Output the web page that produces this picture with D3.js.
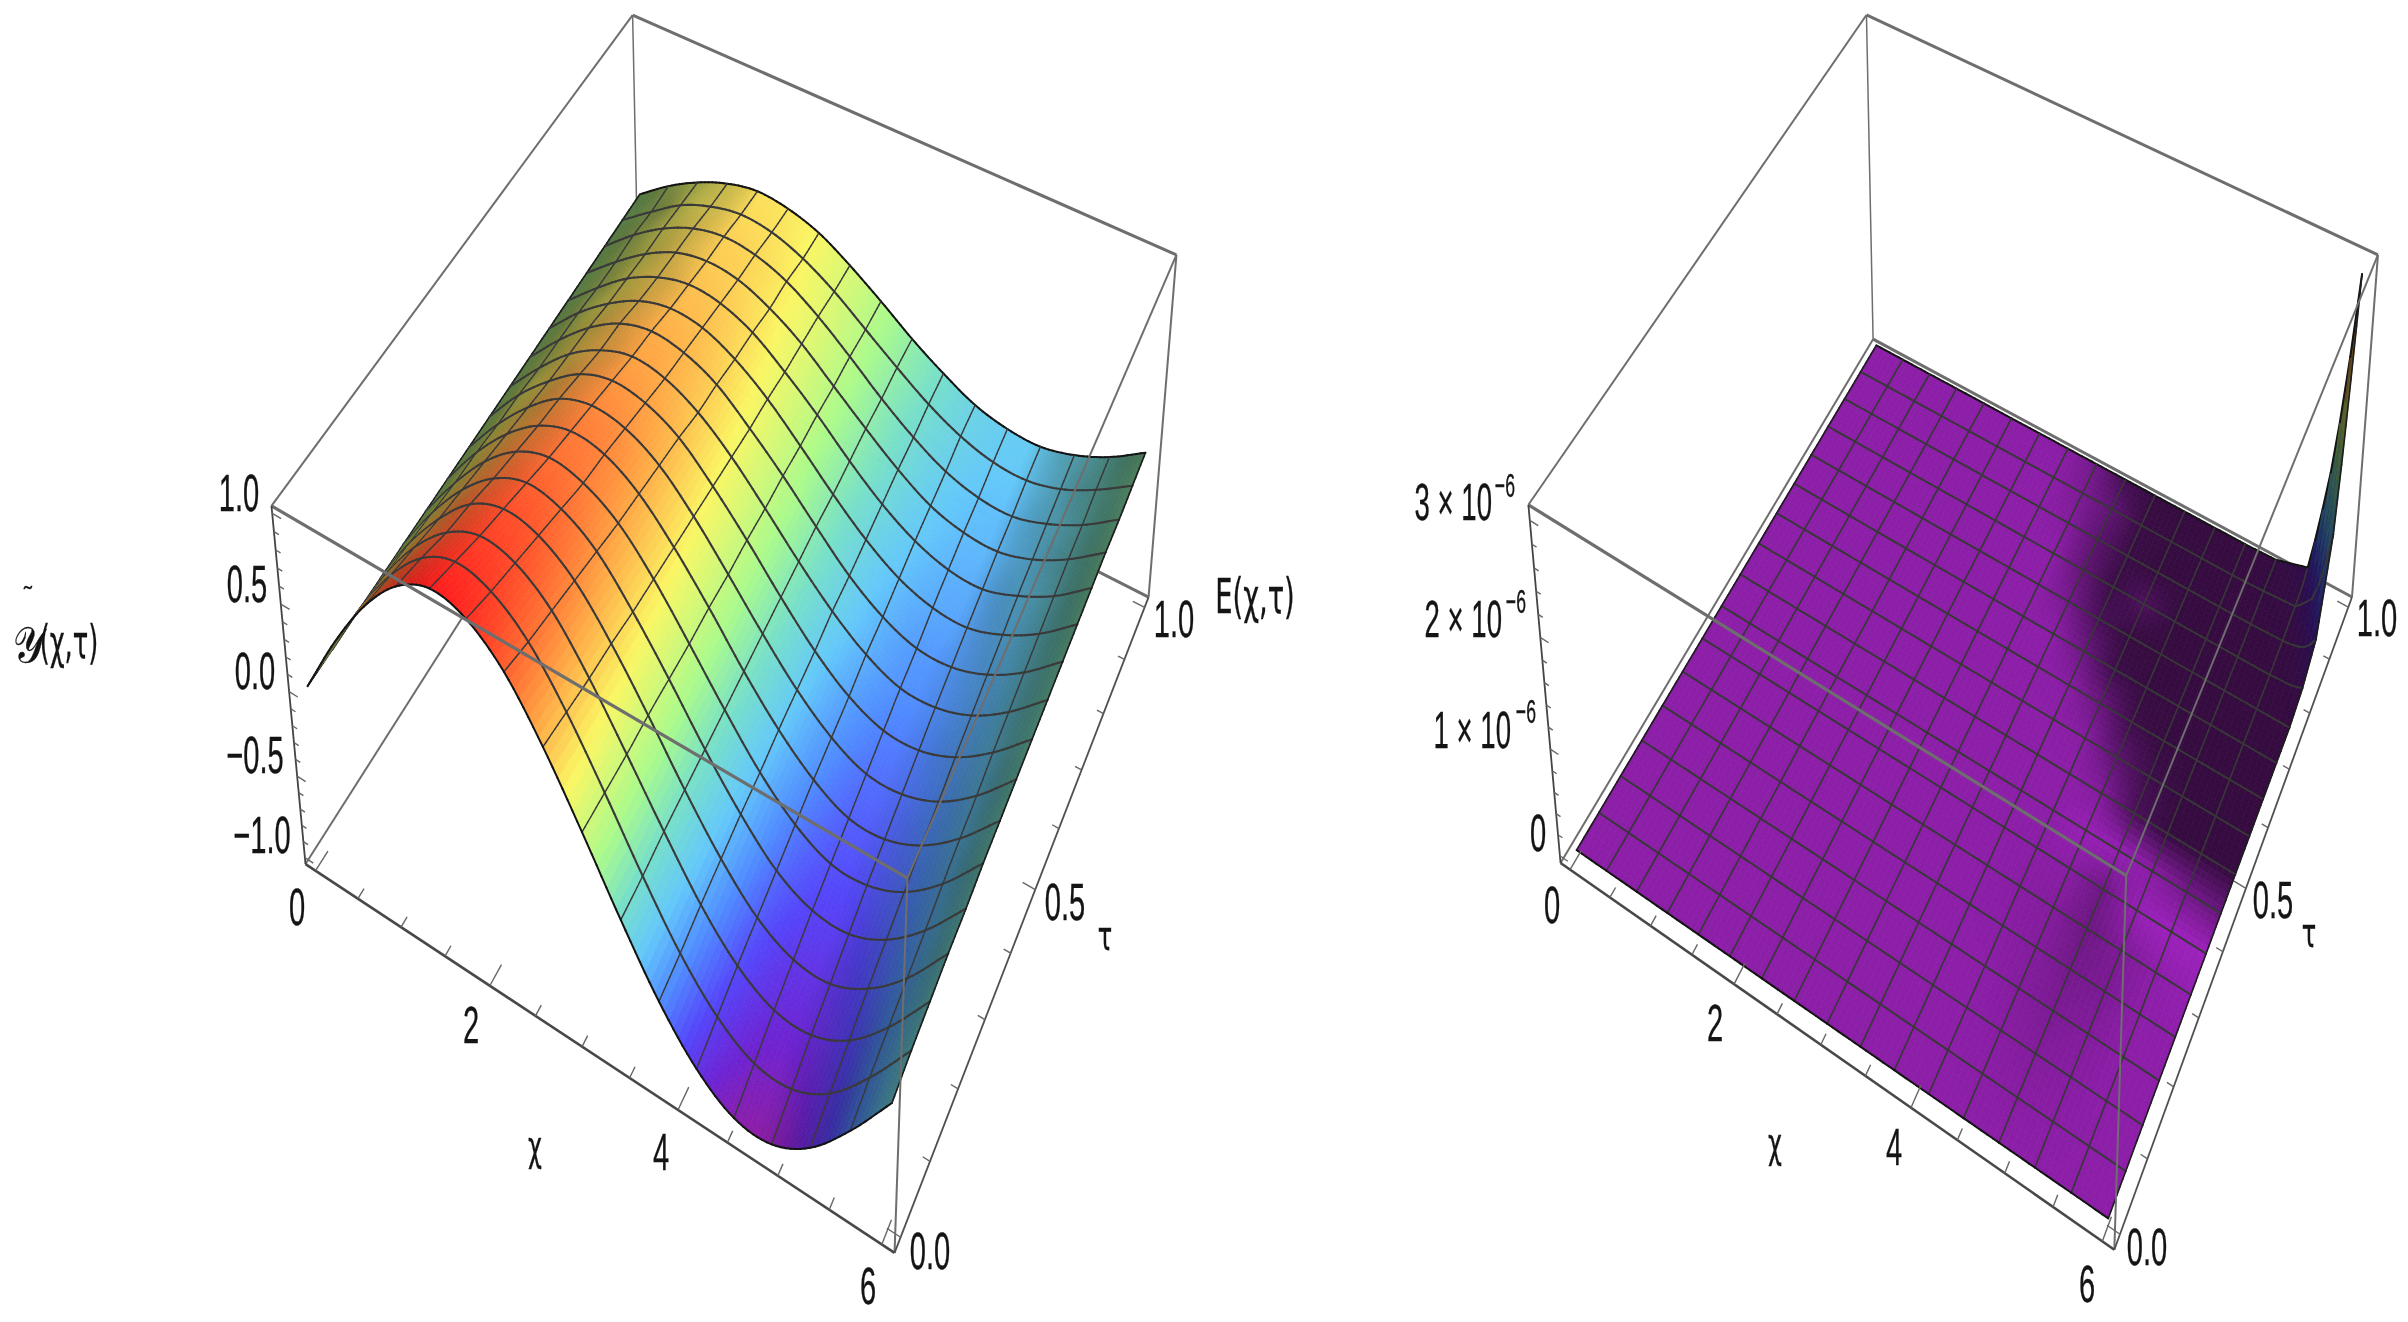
<!DOCTYPE html>
<html><head><meta charset="utf-8">
<script src="https://cdnjs.cloudflare.com/ajax/libs/d3/7.8.5/d3.min.js"></script>
<style>html,body{margin:0;background:#fff}svg{display:block;filter:blur(.55px)}text{font-family:"Liberation Sans",Arial,sans-serif;fill:#141414;stroke:#141414;stroke-width:.35}</style>
</head><body><svg id="c" width="2408" height="1322"></svg>
<script>
const chiMesh=[0,.375,.75,1.125,1.5,1.875,2.25,2.625,3,3.375,3.75,4.125,4.5,4.875,5.25,5.625,6];
const tauMesh=[0,.0625,.125,.1875,.25,.3125,.375,.4375,.5,.5625,.625,.6875,.75,.8125,.875,.9375,1];
// approximate solution surface, one row per tau mesh line
const yVals=[
[0,.37,.68,.90,1.00,.95,.78,.49,.14,-.23,-.57,-.83,-.98,-.99,-.86,-.61,-.30],
[0,.35,.64,.85,.94,.89,.73,.46,.13,-.22,-.54,-.78,-.92,-.93,-.81,-.57,-.27],
[0,.33,.60,.79,.88,.84,.69,.43,.12,-.20,-.50,-.73,-.86,-.87,-.76,-.54,-.25],
[0,.31,.56,.75,.83,.79,.65,.41,.12,-.19,-.47,-.69,-.81,-.82,-.71,-.51,-.23],
[0,.29,.53,.70,.78,.74,.61,.38,.11,-.18,-.44,-.65,-.76,-.77,-.67,-.48,-.22],
[0,.27,.50,.66,.73,.69,.57,.36,.10,-.17,-.42,-.61,-.72,-.72,-.63,-.45,-.20],
[0,.26,.47,.62,.69,.66,.54,.34,.10,-.16,-.39,-.57,-.68,-.68,-.59,-.42,-.19],
[0,.24,.44,.59,.65,.62,.51,.32,.09,-.15,-.37,-.54,-.64,-.64,-.56,-.40,-.18],
[0,.23,.41,.55,.61,.58,.48,.30,.09,-.14,-.35,-.51,-.60,-.60,-.52,-.37,-.17],
[0,.21,.39,.51,.57,.54,.44,.28,.08,-.13,-.32,-.47,-.56,-.56,-.49,-.35,-.16],
[0,.20,.37,.49,.54,.51,.42,.26,.08,-.12,-.31,-.45,-.53,-.53,-.46,-.33,-.15],
[0,.19,.34,.45,.50,.48,.39,.25,.07,-.12,-.29,-.42,-.49,-.50,-.43,-.31,-.14],
[0,.17,.32,.42,.47,.45,.37,.23,.07,-.11,-.27,-.39,-.46,-.47,-.40,-.29,-.13],
[0,.16,.30,.40,.44,.42,.34,.22,.06,-.10,-.25,-.37,-.43,-.44,-.38,-.27,-.12],
[0,.16,.29,.38,.42,.40,.33,.21,.06,-.10,-.24,-.35,-.41,-.42,-.36,-.26,-.12],
[0,.14,.27,.35,.39,.37,.30,.19,.05,-.09,-.22,-.32,-.38,-.39,-.34,-.24,-.11],
[0,.14,.25,.33,.37,.35,.29,.18,.05,-.09,-.21,-.31,-.36,-.37,-.32,-.23,-.10]];
// error surface (units of 1e-6): finer sampling around the corner spike
const errChi=[0,.375,.75,1.125,1.5,1.875,2.25,2.625,3,3.375,3.75,4.125,4.5,4.875,5.25,5.625,5.72,5.82,5.91,6];
const errTau=[0,.0625,.125,.1875,.25,.3125,.375,.4375,.5,.5625,.625,.6875,.75,.8125,.875,.9375,.96,.98,1];
const zero=[0,0,0,0,0,0,0,0,0,0,0,0,0,0,0,0,0,0,0,0];
const errVals=[zero,zero,zero,zero,zero,zero,zero,zero,zero,zero,zero,zero,zero,
[0,0,0,0,0,0,0,0,0,0,0,0,0,0,0,0,.01,.01,.02,.05],
[0,0,0,0,0,0,0,0,0,0,0,0,0,0,0,.01,.02,.04,.08,.2],
[0,0,0,0,0,0,0,0,0,0,0,0,0,0,.01,.03,.1,.2,.45,.9],
[0,0,0,0,0,0,0,0,0,0,0,0,0,0,.01,.04,.18,.38,.8,1.5],
[0,0,0,0,0,0,0,0,0,0,0,0,0,0,.01,.06,.32,.7,1.25,2.2],
[0,0,0,0,0,0,0,0,0,0,0,0,0,0,.01,.1,.55,1.15,1.9,3.0]];
// surface darkening of the error plot (negative = brighter), one row per tau mesh line
const errShade=[
[0,0,0,0,0,0,0,0,0,0,0,0,0,0,0,0,0],
[0,0,0,0,0,0,0,0,0,0,0,0,.02,.05,.03,0,0],
[0,0,0,0,0,0,0,0,0,0,0,0,.05,.12,.06,0,0],
[0,0,0,0,0,0,0,0,0,0,0,0,.1,.2,.12,0,0],
[0,0,0,0,0,0,0,0,0,0,0,.03,.1,.28,.2,0,-.03],
[0,0,0,0,0,0,0,0,0,0,0,.05,.1,.36,.18,0,-.08],
[0,0,0,0,0,0,0,0,0,0,0,.02,.03,.35,-.12,-.2,-.2],
[0,0,0,0,0,0,0,0,0,0,0,0,-.12,-.12,.03,.28,.42],
[0,0,0,0,0,0,0,0,0,0,0,0,.12,.75,1,1,1],
[0,0,0,0,0,0,0,0,0,0,0,.06,.55,.9,1,1,1],
[0,0,0,0,0,0,0,0,0,0,.05,.4,.9,1,1,1,1],
[0,0,0,0,0,0,0,0,0,0,.38,.92,1,1,1,1,1],
[0,0,0,0,0,0,0,0,0,.25,.78,1,1,1,1,1,1],
[0,0,0,0,0,0,0,0,0,.5,.95,.72,1,1,1,1,1],
[0,0,0,0,0,0,0,0,.1,.55,.95,1,1,1,1,1,1],
[0,0,0,0,0,0,0,0,.2,.5,.95,1,1,1,1,1,1],
[0,0,0,0,0,0,0,.05,.3,.85,1,1,1,1,1,1,1]];

const chiMajor=[0,2,4,6],chiMinor=[.5,1,1.5,2.5,3,3.5,4.5,5,5.5];
const tauMajor=[0,.5,1],tauMinor=[.1,.2,.3,.4,.6,.7,.8,.9];
const yMajor=[-1,-.5,0,.5,1],yMinor=[-.9,-.8,-.7,-.6,-.4,-.3,-.2,-.1,.1,.2,.3,.4,.6,.7,.8,.9];
const eMajor=[0,1,2,3],eMinor=[.2,.4,.6,.8,1.2,1.4,1.6,1.8,2.2,2.4,2.6,2.8];

const rainbowZ=[-1,-.9,-.75,-.58,-.4,-.2,0,.3,.55,.8,1];
const rainbowC=["#8c1ea8","#6e23d2","#5546fa","#508cff","#64c8fa","#78e0c8","#aafa8c","#faf664","#ffaa46","#ff5a2d","#ff1e1e"];
const rainbow=d3.scaleLinear().domain(rainbowZ).range(rainbowC).interpolate(d3.interpolateRgb).clamp(true);

const chiScale=d3.scaleLinear().domain([-.12,6.12]).range([0,1]);
const tauScale=d3.scaleLinear().domain([-.02,1.02]).range([0,1]);
const idx=d3.range(17);
const rowAmp=d3.scaleLinear().domain(idx).range(yVals.map(r=>d3.max(r)));

function solveLS(A,b){const n=A[0].length,M=d3.range(n).map(i=>{const r=d3.range(n).map(j=>d3.sum(A,a=>a[i]*a[j]));r.push(d3.sum(A,(a,k)=>a[i]*b[k]));return r;});
 for(let i=0;i<n;i++){let p=i;for(let k=i+1;k<n;k++)if(Math.abs(M[k][i])>Math.abs(M[p][i]))p=k;[M[i],M[p]]=[M[p],M[i]];
  for(let k=0;k<n;k++)if(k!==i){const f=M[k][i]/M[i][i];for(let j=i;j<=n;j++)M[k][j]-=f*M[i][j];}}
 return M.map((r,i)=>r[n]/r[i]);}
function camera(c){const A=[],b=[];for(const [u,v,w,X,Y] of c){const x=X/1000,y=Y/1000;
  A.push([u,v,w,1,0,0,0,0,-x*u,-x*v,-x*w]);b.push(x);A.push([0,0,0,0,u,v,w,1,-y*u,-y*v,-y*w]);b.push(y);}
 const p=solveLS(A,b);return (u,v,w)=>{const d=p[8]*u+p[9]*v+p[10]*w+1;return [1000*(p[0]*u+p[1]*v+p[2]*w+p[3])/d,1000*(p[4]*u+p[5]*v+p[6]*w+p[7])/d,d];};}

function cr(a,b,c,d,t){return .5*(2*b+(c-a)*t+(2*a-5*b+4*c-d)*t*t+(3*b-a-3*c+d)*t*t*t);}
function gridAt(a,b){ // mesh value, continued linearly past the borders for the spline
 if(a<0)return 2*gridAt(0,b)-gridAt(1,b);if(a>16)return 2*gridAt(16,b)-gridAt(15,b);
 if(b<0)return 2*gridAt(a,0)-gridAt(a,1);if(b>16)return 2*gridAt(a,16)-gridAt(a,15);return yVals[b][a];}
function yAt(ci,tj){const i=Math.min(15,Math.floor(ci)),j=Math.min(15,Math.floor(tj)),s=ci-i,t=tj-j;
 const col=k=>cr(gridAt(k,j-1),gridAt(k,j),gridAt(k,j+1),gridAt(k,j+2),t);return cr(col(i-1),col(i),col(i+1),col(i+2),s);}
function bil(xs,ys,M,x,y){const i=Math.min(xs.length-2,d3.bisectRight(xs,x)-1),j=Math.min(ys.length-2,d3.bisectRight(ys,y)-1),s=(x-xs[i])/(xs[i+1]-xs[i]),t=(y-ys[j])/(ys[j+1]-ys[j]);
 return (1-t)*((1-s)*M[j][i]+s*M[j][i+1])+t*((1-s)*M[j+1][i]+s*M[j+1][i+1]);}

const line=d3.line();
function panel(o){
 const g=d3.select("#c").append("g"),P=camera(o.corners),zS=o.zScale;
 const pr=(chi,tau,z)=>P(chiScale(chi),tauScale(tau),zS(z));
 const X0=-.12,X1=6.12,T0=-.02,T1=1.02,[Z0,Z1]=zS.domain();
 const edge=(a,b,w,col)=>g.append("path").attr("d",line([pr(...a),pr(...b)].map(p=>p.slice(0,2)))).attr("stroke",col||"#6e6e6e").attr("stroke-width",w).attr("fill","none");
 edge([X0,T1,Z1],[X0,T1,Z0],1.5);edge([X0,T1,Z0],[X0,T0,Z0],2);edge([X0,T1,Z0],[X1,T1,Z0],3);
 // surface
 const n=o.sub,items=[],F=o.surface,e=.0045*6/n;
 for(let a=0;a<16*n;a++)for(let b=0;b<16*n;b++){
  const ci=a/n,tj=b/n,val=(p,q)=>pr(6*p/16,q/16,F.z(p,q));
  const q=[val(ci,tj),val(ci+1/n,tj),val(ci+1/n,tj+1/n),val(ci,tj+1/n)];
  items.push({k:0,d:d3.mean(q,p=>p[2]),pts:q.map(p=>p.slice(0,2)),fill:F.color(ci+.5/n,tj+.5/n)});
  if(b%n===0)items.push({k:1,d:(q[0][2]+q[1][2])/2-e,pts:[q[0],q[1]].map(p=>p.slice(0,2)),w:b===0?2:o.mw1,c:b===0?"#141414":o.mc});
  if(a%n===0)items.push({k:1,d:(q[0][2]+q[3][2])/2-e,pts:[q[0],q[3]].map(p=>p.slice(0,2)),w:a===0?1.6:o.mw2,c:a===0?"#1e1e1e":o.mc});
  if(b===16*n-1)items.push({k:1,d:(q[2][2]+q[3][2])/2-e,pts:[q[3],q[2]].map(p=>p.slice(0,2)),w:2,c:"#141414"});
  if(a===16*n-1)items.push({k:1,d:(q[1][2]+q[2][2])/2-e,pts:[q[1],q[2]].map(p=>p.slice(0,2)),w:1.6,c:"#1e1e1e"});
 }
 items.sort((p,q)=>q.d-p.d);
 g.append("g").selectAll("path").data(items).join("path").attr("d",d=>line(d.pts)+(d.k?"":"Z"))
  .attr("fill",d=>d.k?"none":d.fill).attr("stroke",d=>d.k?d.c:d.fill).attr("stroke-width",d=>d.k?d.w:.8).attr("stroke-linecap","round");
 // front box edges
 edge([X0,T0,Z1],[X0,T1,Z1],2);edge([X0,T1,Z1],[X1,T1,Z1],3);edge([X1,T1,Z1],[X1,T1,Z0],2);
 edge([X1,T0,Z1],[X1,T1,Z1],2);edge([X1,T0,Z1],[X1,T0,Z0],2);edge([X0,T0,Z1],[X1,T0,Z1],3.2);
 edge([X0,T0,Z1],[X0,T0,Z0],1.8,"#444");edge([X0,T0,Z0],[X1,T0,Z0],2.6,"#484848");edge([X1,T0,Z0],[X1,T1,Z0],1.8,"#505050");
 // ticks
 const tick=(a,b,w)=>edge(a,b,w||1.4,"#666");
 chiMajor.forEach(c=>tick([c,T0,Z0],[c,T0+.032,Z0]));chiMinor.forEach(c=>tick([c,T0,Z0],[c,T0+.016,Z0]));
 tauMajor.forEach(t=>tick([X1,t,Z0],[X1-.13,t,Z0]));tauMinor.forEach(t=>tick([X1,t,Z0],[X1-.07,t,Z0]));
 o.zMajorTicks.forEach(z=>tick([X0,T0,z],[X0+.1,T0,z]));o.zMinorTicks.forEach(z=>tick([X0,T0,z],[X0+.055,T0,z]));
}
function label(x,y,txt,opts){opts=opts||{};const fs=opts.fs||52,sx=opts.sx||.56;
 d3.select("#c").append("text").attr("transform",`translate(${x},${y}) scale(${sx},1)`).attr("text-anchor",opts.anchor||"middle").attr("font-size",fs).style("font-family",opts.family||null).text(txt);}

panel({sub:8,corners:[[0,0,1,272,506],[0,0,0,305,864],[1,0,0,895,1253],[1,0,1,907,878],[0,1,1,632,15],[0,1,0,640,339],[1,1,1,1177,255],[1,1,0,1148,597]],
 zScale:d3.scaleLinear().domain([-1.04,1.04]).range([0,1]),mw1:2.1,mw2:1.4,mc:"#3a3a3a",zMajorTicks:yMajor,zMinorTicks:yMinor,
 surface:{z:(a,b)=>yAt(a,b),color:(a,b)=>{const z=yAt(a,b),a0=Math.max(0,a-.1),a1=Math.min(16,a+.1),s=(yAt(a1,b)-yAt(a0,b))/((a1-a0)*.375),
   t=Math.max(0,Math.min(1,s/rowAmp(b))),l=1-.52*t,c=d3.rgb(rainbow(z));return d3.rgb(c.r*l,c.g*l,c.b*l).formatHex();}}});
panel({sub:6,corners:[[0,0,1,1528,505],[0,0,0,1561,863],[1,0,0,2114,1250],[1,0,1,2126.5,875],[0,1,1,1866.5,15],[0,1,0,1873,339],[1,1,1,2378,255],[1,1,0,2352,597]],
 zScale:d3.scaleLinear().domain([-.07,3.13]).range([0,1]),mw1:1.9,mw2:1.6,mc:"#383838",zMajorTicks:eMajor,zMinorTicks:eMinor,
 surface:{z:(a,b)=>bil(errChi,errTau,errVals,6*a/16,b/16),color:(a,b)=>{const z=bil(errChi,errTau,errVals,6*a/16,b/16),sh=bil(idx,idx,errShade,a,b),
   l=1-.62*sh,c=d3.rgb(rainbow(-1+2*z/3.1));return d3.rgb(c.r*l,c.g*l,c.b*l).formatHex();}}});

const greek={family:"DejaVu Sans",fs:40,sx:.6};
// left tick labels
[["1.0",239,493],["0.5",247,584],["0.0",255,671],["\u22120.5",255,755],["\u22121.0",262,835]].forEach(d=>label(d[1],d[2]+18,d[0]));
[["0",297,907],["2",471,1025],["4",661,1152],["6",868,1286]].forEach(d=>label(d[1],d[2]+18,d[0]));
[["0.0",930,1251],["0.5",1065,902],["1.0",1174,619]].forEach(d=>label(d[1],d[2]+18,d[0]));
label(535,1160,"\u03c7",greek);label(1105,950,"\u03c4",greek);
label(1255,613,"E(\u03c7,\u03c4)",{fs:48,sx:.57,family:"DejaVu Sans"});
label(28,662,"\ud835\udcb4",{fs:50,sx:.8,family:"DejaVu Sans"});
label(28,603,"\u02dc",{fs:24,sx:1});
label(69,658,"(\u03c7,\u03c4)",{fs:46,sx:.56,family:"DejaVu Sans"});
// right tick labels
[["3 \u00d7 10",1492,520],["2 \u00d7 10",1502,637],["1 \u00d7 10",1511,748]].forEach(d=>label(d[1],d[2],d[0],{anchor:"end",sx:.53}));
[[1515,497],[1526,613],[1536,723]].forEach(d=>label(d[0],d[1],"\u22126",{anchor:"end",fs:34,sx:.52}));
[["0",1538,833],["0",1552,905],["2",1715,1023],["4",1894,1147],["6",2087,1284],["0.0",2147,1247],["0.5",2273,900],["1.0",2377,618]].forEach(d=>label(d[1],d[2]+18,d[0]));
label(1775,1157,"\u03c7",greek);label(2309,947,"\u03c4",greek);
</script></body></html>
